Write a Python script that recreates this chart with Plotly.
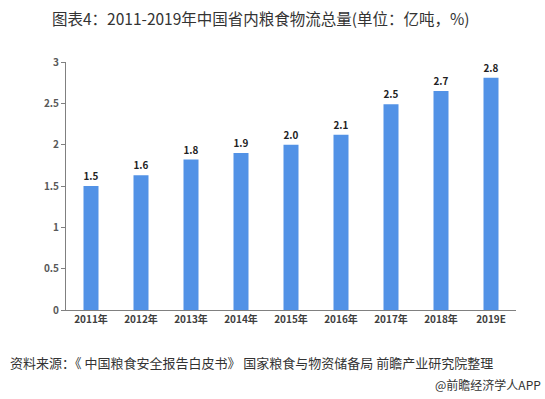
import plotly.graph_objects as go

years = ["2011年", "2012年", "2013年", "2014年", "2015年", "2016年", "2017年", "2018年", "2019E"]
values = [1.5, 1.63, 1.82, 1.9, 2.0, 2.12, 2.49, 2.65, 2.81]
labels = ["1.5", "1.6", "1.8", "1.9", "2.0", "2.1", "2.5", "2.7", "2.8"]
yticks = [0, 0.5, 1, 1.5, 2, 2.5, 3]
ytick_text = ["0", "0.5", "1", "1.5", "2", "2.5", "3"]

FONT = "Noto Sans CJK SC, Liberation Sans, sans-serif"

fig = go.Figure(go.Bar(
    x=years, y=values, text=labels, textposition="outside",
    textfont=dict(size=10, color="#222222", family=FONT, weight="bold"),
    marker=dict(color="#5292E6", line=dict(width=0)),
    width=0.3, cliponaxis=False,
))

fig.update_layout(
    width=545, height=399,
    margin=dict(l=66, r=29, t=62, b=89),
    paper_bgcolor="white", plot_bgcolor="white",
    showlegend=False,
    font=dict(family=FONT),
    xaxis=dict(
        showline=True, linecolor="#808080", linewidth=1,
        ticks="", tickfont=dict(size=10, color="#404040", family=FONT, weight="bold"),
        showgrid=False, fixedrange=True,
    ),
    yaxis=dict(
        range=[0, 3], tickvals=yticks, ticktext=ytick_text,
        showline=True, linecolor="#808080", linewidth=1,
        ticks="outside", ticklen=4, tickcolor="#808080",
        tickfont=dict(size=10, color="#595959", family=FONT, weight="bold"),
        showgrid=False, zeroline=False, fixedrange=True,
    ),
    annotations=[
        dict(text="图表4：2011-2019年中国省内粮食物流总量(单位：亿吨，%)",
             xref="paper", yref="paper", x=0.5, y=1, yshift=44,
             xanchor="center", yanchor="middle", showarrow=False,
             font=dict(size=15.5, color="#333333", family=FONT),
             xshift=-30),
        dict(text="资料来源：《 中国粮食安全报告白皮书》 国家粮食与物资储备局 前瞻产业研究院整理",
             xref="paper", yref="paper", x=0, y=0, xshift=-58, yshift=-52,
             xanchor="left", yanchor="middle", showarrow=False,
             font=dict(size=13, color="#333333", family=FONT)),
        dict(text="@前瞻经济学人APP",
             xref="paper", yref="paper", x=1, y=0, xshift=27, yshift=-74,
             xanchor="right", yanchor="middle", showarrow=False,
             font=dict(size=12, color="#333333", family=FONT)),
    ],
)

fig.write_html("out.html", config={"displayModeBar": False},
               post_script="document.body.style.margin='0';document.body.style.padding='0';")
